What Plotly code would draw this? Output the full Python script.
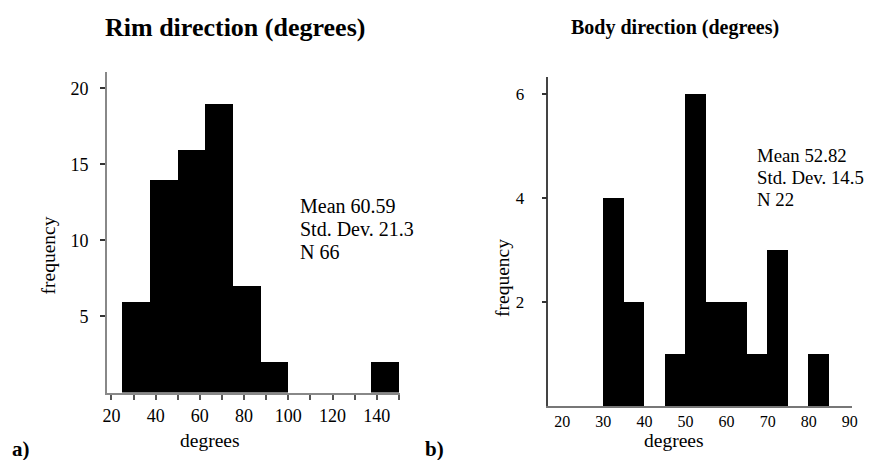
import plotly.graph_objects as go

# ---- data ----
rim_bin_start = [25, 37.5, 50, 62.5, 75, 87.5, 100, 112.5, 125, 137.5]
rim_counts = [6, 14, 16, 19, 7, 2, 0, 0, 0, 2]
rim_bin_width = 12.5
rim_stats = ["Mean 60.59", "Std. Dev. 21.3", "N 66"]

body_bin_start = [30, 35, 40, 45, 50, 55, 60, 65, 70, 75, 80]
body_counts = [4, 2, 0, 1, 6, 2, 2, 1, 3, 0, 1]
body_bin_width = 5
body_stats = ["Mean 52.82", "Std. Dev. 14.5", "N 22"]

rim_xticks = [20, 30, 40, 50, 60, 70, 80, 90, 100, 110, 120, 130, 140, 150]
rim_xticktext = ["20", "", "40", "", "60", "", "80", "", "100", "", "120", "", "140", ""]
rim_yticks = [5, 10, 15, 20]
body_xticks = [20, 30, 40, 50, 60, 70, 80, 90]
body_yticks = [2, 4, 6]

# The page body has an 8px default margin, so the figure is drawn 8px in
# from the top-left corner; size and place it so the window shows 873x460.
OFF = 8
W, H = 873 - OFF, 460 - OFF
FONT = "Liberation Serif, Times New Roman, serif"


def px(x):
    return (x - OFF) / W


def py(y):
    return 1 - (y - OFF) / H


fig = go.Figure()
fig.add_trace(go.Bar(
    x=[s + rim_bin_width / 2 for s in rim_bin_start], y=rim_counts,
    width=rim_bin_width, marker=dict(color="black", line=dict(width=0)),
    xaxis="x", yaxis="y", showlegend=False, hoverinfo="x+y"))
fig.add_trace(go.Bar(
    x=[s + body_bin_width / 2 for s in body_bin_start], y=body_counts,
    width=body_bin_width, marker=dict(color="black", line=dict(width=0)),
    xaxis="x2", yaxis="y2", showlegend=False, hoverinfo="x+y"))

fig.update_layout(
    width=W, height=H, margin=dict(l=0, r=0, t=0, b=0, pad=0, autoexpand=False),
    paper_bgcolor="white", plot_bgcolor="white",
    font=dict(family=FONT, color="black"),
    bargap=0,
    xaxis=dict(domain=[px(107), px(399.5)], range=[18, 150.3], anchor="y",
               automargin=False,
               tickvals=rim_xticks, ticktext=rim_xticktext, ticks="outside",
               ticklen=5, tickwidth=1.5, tickcolor="#555",
               showline=True, linecolor="#888", linewidth=2,
               showgrid=False, zeroline=False,
               tickfont=dict(size=18, family=FONT), ticklabelstandoff=1),
    yaxis=dict(domain=[py(392.5), py(71.7)], range=[0, 21.1], anchor="x",
               automargin=False,
               tickvals=rim_yticks, ticks="outside", ticklen=5, tickwidth=1.5,
               tickcolor="#333", showline=True, linecolor="#888", linewidth=2,
               showgrid=False, zeroline=False,
               tickfont=dict(size=18, family=FONT), ticklabelstandoff=8),
    xaxis2=dict(domain=[px(548.3), px(851.5)], range=[16.6, 90.4], anchor="y2",
                automargin=False,
                tickvals=body_xticks, ticks="",
                showline=True, linecolor="#777", linewidth=1.5,
                showgrid=False, zeroline=False,
                tickfont=dict(size=16, family=FONT), ticklabelstandoff=0),
    yaxis2=dict(domain=[py(406), py(76.7)], range=[0, 6.33], anchor="x2",
                automargin=False,
                tickvals=body_yticks, ticks="outside", ticklen=5, tickwidth=1.5,
                tickcolor="#333", showline=True, linecolor="#444", linewidth=1.5,
                showgrid=False, zeroline=False,
                tickfont=dict(size=17, family=FONT), ticklabelstandoff=14),
)

ann = []


def add(text, x, y, size, bold=False, xanchor="center", angle=0):
    t = f"<b>{text}</b>" if bold else text
    ann.append(dict(text=t, x=px(x), y=py(y), xref="paper", yref="paper",
                    xanchor=xanchor, yanchor="middle", showarrow=False,
                    borderpad=0, textangle=angle,
                    font=dict(size=size, family=FONT, color="black")))


add("Rim direction (degrees)", 234.5, 27, 26, bold=True)
add("Body direction (degrees)", 674.5, 27, 20, bold=True)
add("frequency", 48.5, 256, 19.5, angle=-90)
add("frequency", 502, 278, 19.5, angle=-90)
add("degrees", 210, 440, 19.5)
add("degrees", 673.7, 440, 19.5)
add("a)", 11, 449, 21, bold=True, xanchor="left")
add("b)", 424, 449, 21, bold=True, xanchor="left")

for i, s in enumerate(rim_stats):
    add(s, 299, 206 + 23 * i, 20, xanchor="left")
for i, s in enumerate(body_stats):
    add(s, 756, 155.5 + 22 * i, 18.8, xanchor="left")

fig.update_layout(annotations=ann)
fig.write_html("out.html")
